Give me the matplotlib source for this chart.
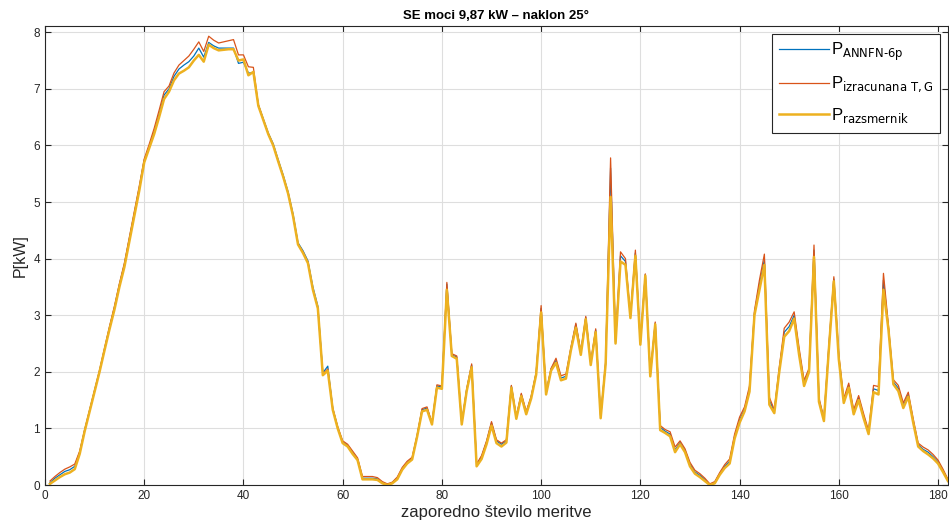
import numpy as np
import matplotlib
matplotlib.use('Agg')
import matplotlib.pyplot as plt

# ---------------- podatki (odčitani z grafa) ----------------
meritve = np.arange(1, 183)

p_annfn = [
    0.04, 0.12, 0.18, 0.24, 0.27, 0.33, 0.58, 0.97, 1.32, 1.67,
    2.02, 2.40, 2.78, 3.14, 3.54, 3.90, 4.35, 4.80, 5.25, 5.74,
    5.98, 6.25, 6.56, 6.89, 7.00, 7.22, 7.35, 7.42, 7.48, 7.58,
    7.72, 7.56, 7.82, 7.76, 7.72, 7.72, 7.72, 7.72, 7.45, 7.47,
    7.28, 7.28, 6.72, 6.47, 6.22, 6.03, 5.75, 5.48, 5.18, 4.79,
    4.28, 4.14, 3.96, 3.50, 3.16, 1.98, 2.10, 1.35, 1.02, 0.76,
    0.70, 0.58, 0.46, 0.12, 0.12, 0.12, 0.11, 0.04, 0.01, 0.04,
    0.12, 0.29, 0.40, 0.47, 0.87, 1.33, 1.36, 1.09, 1.75, 1.73,
    3.55, 2.30, 2.26, 1.09, 1.69, 2.12, 0.36, 0.50, 0.76, 1.10,
    0.78, 0.72, 0.78, 1.75, 1.20, 1.60, 1.28, 1.56, 1.98, 3.12,
    1.63, 2.05, 2.20, 1.89, 1.92, 2.41, 2.84, 2.34, 2.96, 2.15,
    2.74, 1.20, 2.15, 5.60, 2.52, 4.05, 3.95, 2.97, 4.10, 2.50,
    3.72, 1.94, 2.86, 1.02, 0.95, 0.90, 0.62, 0.75, 0.61, 0.37,
    0.23, 0.17, 0.10, 0.01, 0.05, 0.20, 0.33, 0.42, 0.86, 1.15,
    1.34, 1.70, 3.04, 3.55, 3.98, 1.50, 1.30, 2.04, 2.70, 2.80,
    3.00, 2.36, 1.80, 2.03, 4.15, 1.51, 1.16, 2.44, 3.64, 2.26,
    1.49, 1.76, 1.29, 1.54, 1.22, 0.93, 1.70, 1.67, 3.62, 2.78,
    1.82, 1.71, 1.40, 1.60, 1.13, 0.71, 0.63, 0.58, 0.50, 0.41,
    0.25, 0.08,
]

p_izracunana = [
    0.07, 0.15, 0.22, 0.28, 0.32, 0.37, 0.60, 0.98, 1.33, 1.68,
    2.03, 2.42, 2.80, 3.16, 3.56, 3.92, 4.38, 4.83, 5.28, 5.76,
    6.02, 6.30, 6.62, 6.95, 7.05, 7.28, 7.42, 7.50, 7.58, 7.70,
    7.83, 7.66, 7.93, 7.86, 7.81, 7.83, 7.85, 7.87, 7.60, 7.60,
    7.39, 7.38, 6.72, 6.46, 6.21, 6.01, 5.73, 5.46, 5.16, 4.76,
    4.26, 4.12, 3.94, 3.46, 3.13, 1.96, 2.05, 1.36, 1.03, 0.78,
    0.72, 0.60, 0.48, 0.15, 0.15, 0.15, 0.13, 0.06, 0.02, 0.05,
    0.14, 0.31, 0.42, 0.49, 0.88, 1.35, 1.38, 1.10, 1.77, 1.75,
    3.58, 2.32, 2.28, 1.10, 1.70, 2.14, 0.37, 0.52, 0.78, 1.12,
    0.80, 0.74, 0.80, 1.76, 1.21, 1.62, 1.30, 1.57, 1.99, 3.17,
    1.64, 2.06, 2.24, 1.93, 1.96, 2.43, 2.86, 2.36, 2.98, 2.17,
    2.76, 1.21, 2.17, 5.78, 2.53, 4.12, 4.00, 2.99, 4.15, 2.52,
    3.73, 1.95, 2.88, 1.05, 0.98, 0.94, 0.67, 0.78, 0.64, 0.40,
    0.26, 0.20, 0.12, 0.02, 0.06, 0.22, 0.36, 0.46, 0.90, 1.20,
    1.38, 1.75, 3.08, 3.62, 4.08, 1.55, 1.33, 2.08, 2.77, 2.88,
    3.06, 2.42, 1.85, 2.06, 4.24, 1.54, 1.18, 2.48, 3.68, 2.30,
    1.53, 1.80, 1.33, 1.58, 1.26, 0.96, 1.76, 1.74, 3.74, 2.82,
    1.86, 1.76, 1.45, 1.64, 1.17, 0.74, 0.67, 0.62, 0.54, 0.44,
    0.28, 0.10,
]

p_razsmernik = [
    0.02, 0.08, 0.14, 0.19, 0.22, 0.28, 0.55, 0.95, 1.30, 1.65,
    2.00, 2.38, 2.75, 3.10, 3.50, 3.85, 4.30, 4.75, 5.20, 5.70,
    5.95, 6.20, 6.50, 6.82, 6.95, 7.15, 7.27, 7.32, 7.38, 7.50,
    7.60, 7.48, 7.78, 7.72, 7.68, 7.69, 7.70, 7.70, 7.50, 7.52,
    7.24, 7.30, 6.70, 6.45, 6.20, 6.00, 5.72, 5.45, 5.15, 4.75,
    4.25, 4.10, 3.92, 3.45, 3.12, 1.94, 2.02, 1.33, 1.00, 0.74,
    0.68, 0.55, 0.44, 0.10, 0.10, 0.10, 0.09, 0.03, 0.00, 0.03,
    0.10, 0.27, 0.38, 0.45, 0.85, 1.30, 1.33, 1.07, 1.72, 1.70,
    3.45, 2.28, 2.23, 1.07, 1.66, 2.08, 0.33, 0.46, 0.72, 1.05,
    0.74, 0.68, 0.75, 1.72, 1.17, 1.57, 1.25, 1.53, 1.95, 3.05,
    1.60, 2.02, 2.16, 1.85, 1.88, 2.38, 2.78, 2.30, 2.93, 2.12,
    2.70, 1.18, 2.13, 5.09, 2.50, 3.95, 3.89, 2.95, 4.05, 2.48,
    3.70, 1.92, 2.84, 0.97, 0.92, 0.86, 0.58, 0.72, 0.58, 0.33,
    0.20, 0.14, 0.07, 0.00, 0.03, 0.18, 0.30, 0.38, 0.82, 1.10,
    1.30, 1.65, 3.00, 3.45, 3.89, 1.42, 1.27, 2.00, 2.62, 2.72,
    2.94, 2.30, 1.75, 2.00, 4.03, 1.47, 1.13, 2.40, 3.60, 2.22,
    1.45, 1.72, 1.25, 1.50, 1.18, 0.90, 1.64, 1.60, 3.45, 2.75,
    1.78, 1.66, 1.36, 1.56, 1.10, 0.68, 0.60, 0.54, 0.47, 0.38,
    0.23, 0.07,
]

x_ticks = [0, 20, 40, 60, 80, 100, 120, 140, 160, 180]
y_ticks = [0, 1, 2, 3, 4, 5, 6, 7, 8]

# ---------------- izgled ----------------
plt.rcParams['font.family'] = ['Liberation Sans', 'DejaVu Sans']
plt.rcParams['mathtext.fontset'] = 'dejavusans'

temna = '#262626'

fig = plt.figure(figsize=(9.49, 5.30), dpi=100)
ax = fig.add_axes([0.0474, 0.0849, 0.9515, 0.866])

ax.plot(meritve, p_annfn, color='#0072BD', lw=0.9,
        label=r'P$_{\mathrm{ANNFN\text{-}6p}}$')
ax.plot(meritve, p_izracunana, color='#D95319', lw=0.9,
        label=r'P$_{\mathrm{izracunana\ T,G}}$')
ax.plot(meritve, p_razsmernik, color='#EDB120', lw=1.8,
        label=r'P$_{\mathrm{razsmernik}}$')

ax.set_xlim(0, 182)
ax.set_ylim(0, 8.11)
ax.set_xticks(x_ticks)
ax.set_yticks(y_ticks)
ax.grid(True, color='#dedede', lw=0.8)
ax.set_axisbelow(True)

ax.tick_params(direction='in', top=True, right=True, length=4,
               width=0.8, colors=temna, labelsize=8.5)
for s in ax.spines.values():
    s.set_color(temna)
    s.set_linewidth(0.8)

ax.set_title('SE moci 9,87 kW – naklon 25°', fontsize=9.5, fontweight='bold',
             color='black', pad=5)
ax.set_xlabel('zaporedno število meritve', fontsize=12, color=temna, labelpad=2)
ax.set_ylabel('P[kW]', fontsize=11.5, color=temna, labelpad=4)

leg = ax.legend(loc='upper right', fontsize=12, fancybox=False,
                edgecolor=temna, framealpha=1, handlelength=3.0,
                handletextpad=0.1, borderpad=0.45, labelspacing=0.7,
                borderaxespad=0.45)
leg.get_frame().set_linewidth(0.8)

fig.savefig('out.png', dpi=100)
